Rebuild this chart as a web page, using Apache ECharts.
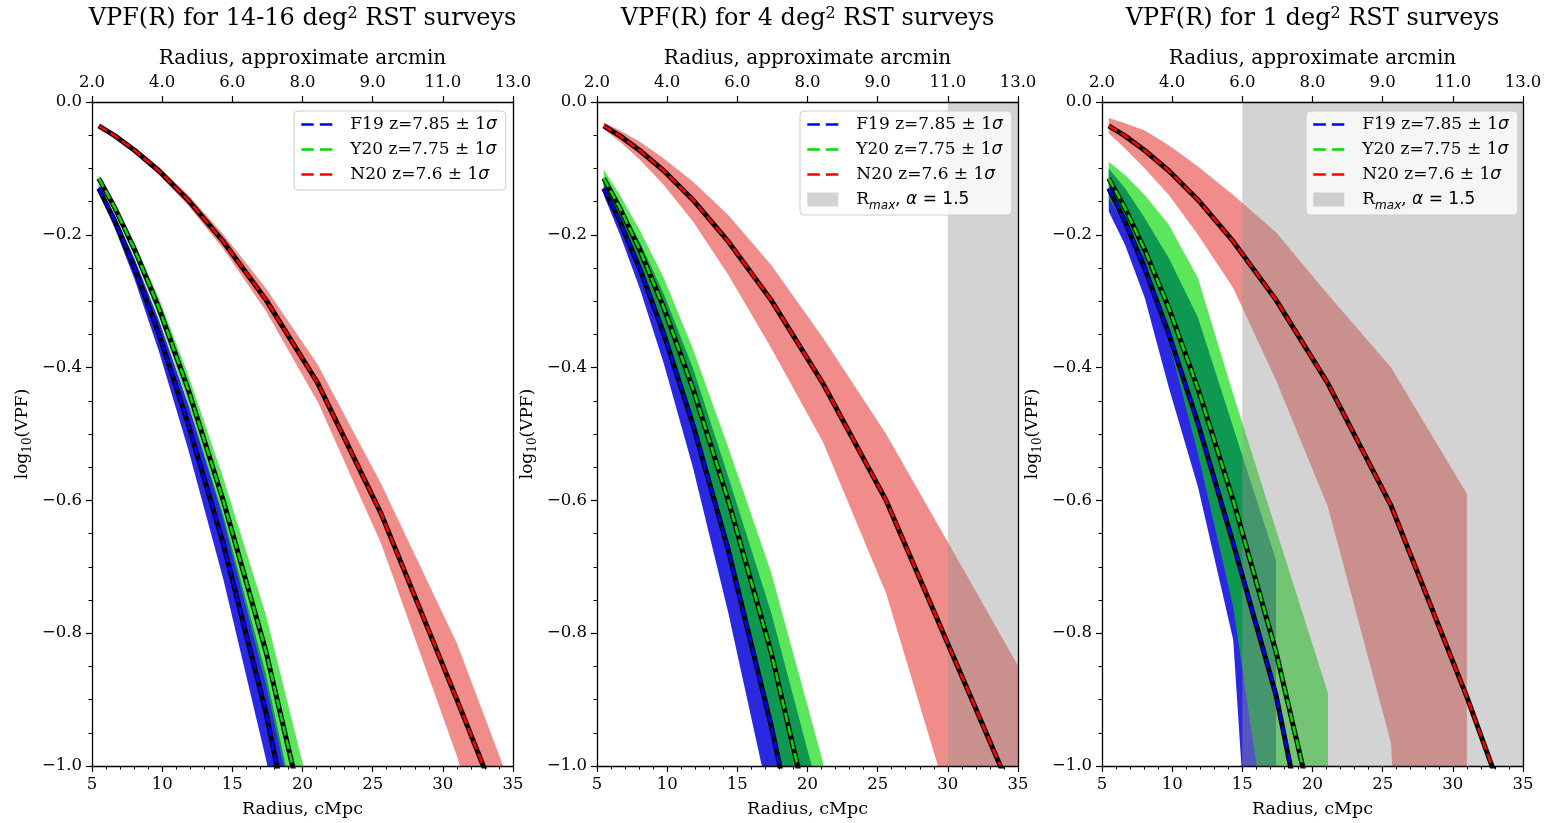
<!DOCTYPE html>
<html><head><meta charset="utf-8">
<script src="https://cdn.jsdelivr.net/npm/echarts@6/dist/echarts.min.js"></script>
<style>html,body{margin:0;padding:0;background:#fff}#c{width:1559px;height:823px}</style>
</head><body><div id="c"></div>
<script>
// ---------------- data ----------------
const R = [5.48, 6.64, 8.05, 9.76, 11.84, 14.35, 17.4, 21.1, 25.6, 31.0, 37.6];
const topTickLabels = ['2.0', '4.0', '6.0', '8.0', '9.0', '11.0', '13.0'];
const surveyAreas = ['14-16', '4', '1'];
const rmaxStart = [null, 30, 15];

// panel 1 (14-16 deg^2)
const p1_F19_mean = [-0.130, -0.180, -0.251, -0.349, -0.484, -0.665, -0.920, -1.300];
const p1_F19_lo   = [-0.136, -0.191, -0.268, -0.375, -0.522, -0.718, -0.990, -1.390];
const p1_F19_hi   = [-0.125, -0.171, -0.237, -0.328, -0.454, -0.622, -0.862, -1.225];
const p1_Y20_mean = [-0.115, -0.160, -0.223, -0.310, -0.432, -0.600, -0.828, -1.164];
const p1_Y20_lo   = [-0.120, -0.167, -0.233, -0.324, -0.452, -0.628, -0.878, -1.234];
const p1_Y20_hi   = [-0.110, -0.153, -0.213, -0.295, -0.410, -0.566, -0.773, -1.089];
const p1_N20_mean = [-0.036, -0.051, -0.073, -0.1035, -0.1475, -0.210, -0.298, -0.424, -0.620, -0.900, -1.250];
const p1_N20_lo   = [-0.039, -0.055, -0.078, -0.1095, -0.1555, -0.221, -0.315, -0.452, -0.665, -0.985, -1.450];
const p1_N20_hi   = [-0.033, -0.047, -0.068, -0.0975, -0.1395, -0.199, -0.281, -0.396, -0.575, -0.815, -1.185];

// panel 2 (4 deg^2)
const p2_F19_mean = [-0.130, -0.180, -0.251, -0.349, -0.486, -0.674, -0.938, -1.304];
const p2_F19_lo   = [-0.140, -0.200, -0.281, -0.394, -0.551, -0.769, -1.063, -1.474];
const p2_F19_hi   = [-0.120, -0.155, -0.211, -0.289, -0.401, -0.564, -0.768, -1.064];
const p2_Y20_mean = [-0.115, -0.160, -0.223, -0.310, -0.432, -0.600, -0.828, -1.164];
const p2_Y20_lo   = [-0.125, -0.180, -0.253, -0.350, -0.487, -0.670, -0.938, -1.324];
const p2_Y20_hi   = [-0.102, -0.140, -0.193, -0.265, -0.372, -0.520, -0.708, -0.994];
const p2_N20_mean = [-0.036, -0.051, -0.073, -0.1035, -0.1475, -0.210, -0.298, -0.424, -0.600, -0.865, -1.190];
const p2_N20_lo   = [-0.041, -0.060, -0.087, -0.125, -0.180, -0.260, -0.370, -0.512, -0.740, -1.120, -1.500];
const p2_N20_hi   = [-0.031, -0.043, -0.060, -0.085, -0.120, -0.170, -0.245, -0.355, -0.500, -0.700, -0.946];

// panel 3 (1 deg^2)
const p3_F19_mean = [-0.130, -0.180, -0.251, -0.349, -0.484, -0.665, -0.893, -1.280];
const p3_F19_lo   = [-0.165, -0.215, -0.295, -0.430, -0.580, -0.810, -1.800];
const p3_F19_hi   = [-0.100, -0.130, -0.175, -0.235, -0.325, -0.490, -0.690];
const p3_Y20_mean = [-0.115, -0.160, -0.223, -0.310, -0.432, -0.600, -0.828, -1.164];
const p3_Y20_lo   = [-0.145, -0.185, -0.235, -0.360, -0.530, -0.760, -1.200, -3.000];
const p3_Y20_hi   = [-0.090, -0.110, -0.140, -0.185, -0.265, -0.440, -0.644, -0.890];
const p3_N20_mean = [-0.036, -0.051, -0.073, -0.1035, -0.1475, -0.210, -0.298, -0.424, -0.608, -0.896, -1.280];
const p3_N20_lo   = [-0.047, -0.070, -0.100, -0.140, -0.200, -0.280, -0.419, -0.610, -0.966, -3.500];
const p3_N20_hi   = [-0.024, -0.032, -0.043, -0.065, -0.097, -0.140, -0.196, -0.290, -0.400, -0.590];

// ---------------- style ----------------
const FONT = "'DejaVu Serif', serif";
const SANS = "'DejaVu Sans', sans-serif";
const GRID_LEFT = [92, 597, 1102];
const GRID_TOP = 102, GRID_W = 421, GRID_H = 664;
const LINE_COLORS = { F19: '#0000ff', Y20: '#00dd00', N20: '#ff0000' };
const BAND_COLORS = { F19: '#2a28e0', Y20: 'rgba(0,216,0,0.64)', N20: '#f08d8b' };
const GREY = 'rgba(147,147,147,0.41)';
const DASH = [9.6, 4.2];
const LEGEND_DASH = [12.5, 6];
const LEGEND_LEFT = [294, 800, 1306];

const panels = [
  { F19: [p1_F19_mean, p1_F19_lo, p1_F19_hi], Y20: [p1_Y20_mean, p1_Y20_lo, p1_Y20_hi], N20: [p1_N20_mean, p1_N20_lo, p1_N20_hi] },
  { F19: [p2_F19_mean, p2_F19_lo, p2_F19_hi], Y20: [p2_Y20_mean, p2_Y20_lo, p2_Y20_hi], N20: [p2_N20_mean, p2_N20_lo, p2_N20_hi] },
  { F19: [p3_F19_mean, p3_F19_lo, p3_F19_hi], Y20: [p3_Y20_mean, p3_Y20_lo, p3_Y20_hi], N20: [p3_N20_mean, p3_N20_lo, p3_N20_hi] }
];
const KEYS = ['F19', 'Y20', 'N20'];
const legendText = {
  F19: '{n|F19 z=7.85 ± 1}{g|σ}',
  Y20: '{n|Y20 z=7.75 ± 1}{g|σ}',
  N20: '{n|N20 z=7.6 ± 1}{g|σ}',
  rmax: '{n|R}{b|max}{n|, }{g|α}{m| = 1.5}'
};

function clipPolygon(pts, r) {
  const x0 = r.x, x1 = r.x + r.width, y0 = r.y, y1 = r.y + r.height;
  const planes = [
    [p => p[0] >= x0, (a, b) => { const t = (x0 - a[0]) / (b[0] - a[0]); return [x0, a[1] + t * (b[1] - a[1])]; }],
    [p => p[0] <= x1, (a, b) => { const t = (x1 - a[0]) / (b[0] - a[0]); return [x1, a[1] + t * (b[1] - a[1])]; }],
    [p => p[1] >= y0, (a, b) => { const t = (y0 - a[1]) / (b[1] - a[1]); return [a[0] + t * (b[0] - a[0]), y0]; }],
    [p => p[1] <= y1, (a, b) => { const t = (y1 - a[1]) / (b[1] - a[1]); return [a[0] + t * (b[0] - a[0]), y1]; }]
  ];
  let out = pts;
  for (const [inside, inter] of planes) {
    const inp = out; out = [];
    if (!inp.length) break;
    for (let i = 0; i < inp.length; i++) {
      const cur = inp[i], prev = inp[(i + inp.length - 1) % inp.length];
      const ci = inside(cur), pi = inside(prev);
      if (ci) { if (!pi) out.push(inter(prev, cur)); out.push(cur); }
      else if (pi) out.push(inter(prev, cur));
    }
  }
  return out;
}

function bandSeries(p, key, lo, hi) {
  const xs = R.slice(0, lo.length);
  return {
    type: 'custom', name: 'band' + key + p, xAxisIndex: 2 * p, yAxisIndex: 2 * p,
    silent: true, animation: false, clip: true, z: 2,
    data: [[xs[0], hi[0]]],
    renderItem: function (params, api) {
      const top = xs.map((x, i) => api.coord([x, hi[i]]));
      const bot = xs.map((x, i) => api.coord([x, lo[i]])).reverse();
      const pts = clipPolygon(top.concat(bot), params.coordSys);
      return { type: 'polygon', shape: { points: pts }, style: { fill: BAND_COLORS[key] } };
    }
  };
}

function greySeries(p, start) {
  return {
    type: 'custom', name: 'rmax', xAxisIndex: 2 * p, yAxisIndex: 2 * p,
    silent: true, animation: false, z: 2, itemStyle: { color: GREY },
    data: [[start, 35]],
    renderItem: function (params, api) {
      const cs = params.coordSys;
      const a = api.coord([api.value(0), -0.5])[0];
      const b = api.coord([api.value(1), -0.5])[0];
      return { type: 'rect', shape: { x: a, y: cs.y, width: b - a, height: cs.height }, style: { fill: GREY } };
    }
  };
}

function lineSeries(p, key, mean, black) {
  const xs = R.slice(0, mean.length);
  const col = black ? '#000' : LINE_COLORS[key];
  return {
    type: 'line', name: black ? 'k' + key : key, xAxisIndex: 2 * p, yAxisIndex: 2 * p,
    data: xs.map((x, i) => [x, mean[i]]),
    symbol: 'none', showSymbol: false, silent: true, animation: false, clip: true, z: 3,
    itemStyle: { color: col },
    lineStyle: black ? { color: '#000', width: 5, type: 'solid', join: 'round' }
                     : { color: col, width: 2.6, type: DASH }
  };
}

const axisLineStyle = { color: '#000', width: 1.3 };
const xAxes = [], yAxes = [], grids = [], series = [], legends = [], graphics = [];
for (let p = 0; p < 3; p++) {
  grids.push({ left: GRID_LEFT[p], top: GRID_TOP, width: GRID_W, height: GRID_H, containLabel: false });
  xAxes.push({
    type: 'value', gridIndex: p, position: 'bottom', min: 5, max: 35, interval: 5, z: 10,
    axisLine: { show: true, onZero: false, lineStyle: axisLineStyle },
    axisTick: { show: true, inside: false, length: 6, lineStyle: { color: '#000', width: 1.2 } },
    minorTick: { show: true, splitNumber: 5, length: 3.5, lineStyle: { color: '#000', width: 1 } },
    axisLabel: { fontFamily: FONT, fontSize: 16.5, color: '#000', margin: 10, showMinLabel: true, showMaxLabel: true },
    splitLine: { show: false },
    name: 'Radius, cMpc', nameLocation: 'middle', nameGap: 34,
    nameTextStyle: { fontFamily: FONT, fontSize: 17.5, color: '#000' }
  });
  xAxes.push({
    type: 'value', gridIndex: p, position: 'top', min: 5, max: 35, interval: 5, z: 10,
    axisLine: { show: true, onZero: false, lineStyle: axisLineStyle },
    axisTick: { show: true, inside: false, length: 6, lineStyle: { color: '#000', width: 1.2 } },
    axisLabel: { fontFamily: FONT, fontSize: 16.5, color: '#000', margin: 11, showMinLabel: true, showMaxLabel: true,
      formatter: v => topTickLabels[Math.round((v - 5) / 5)] },
    splitLine: { show: false },
    name: 'Radius, approximate arcmin', nameLocation: 'middle', nameGap: 32,
    nameTextStyle: { fontFamily: FONT, fontSize: 20, color: '#000' }
  });
  yAxes.push({
    type: 'value', gridIndex: p, position: 'left', min: -1, max: 0, interval: 0.2, z: 10,
    axisLine: { show: true, onZero: false, lineStyle: axisLineStyle },
    axisTick: { show: true, inside: false, length: 6, lineStyle: { color: '#000', width: 1.2 } },
    minorTick: { show: true, splitNumber: 4, length: 3.5, lineStyle: { color: '#000', width: 1 } },
    axisLabel: { fontFamily: FONT, fontSize: 16.5, color: '#000', margin: 10, showMinLabel: true, showMaxLabel: true,
      formatter: v => (v < -1e-9 ? '\u2212' : '') + Math.abs(v).toFixed(1) },
    splitLine: { show: false },
    name: '{a|log}{s|10}{a|(VPF)}', nameLocation: 'middle', nameGap: 58,
    nameTextStyle: { fontFamily: FONT, fontSize: 17, color: '#000',
      rich: { a: { fontFamily: FONT, fontSize: 17, lineHeight: 22, color: '#000' },
              s: { fontFamily: FONT, fontSize: 12, lineHeight: 15, verticalAlign: 'bottom', color: '#000' } } }
  });
  yAxes.push({
    type: 'value', gridIndex: p, position: 'right', min: -1, max: 0, z: 10,
    axisLine: { show: true, onZero: false, lineStyle: axisLineStyle },
    axisTick: { show: false }, axisLabel: { show: false }, splitLine: { show: false }
  });

  const pd = panels[p];
  KEYS.forEach(k => series.push(bandSeries(p, k, pd[k][1], pd[k][2])));
  if (rmaxStart[p] !== null) series.push(greySeries(p, rmaxStart[p]));
  KEYS.forEach(k => { series.push(lineSeries(p, k, pd[k][0], true)); series.push(lineSeries(p, k, pd[k][0], false)); });

  const ldata = KEYS.map(k => ({
    name: k,
    itemStyle: { color: 'rgba(0,0,0,0)', borderColor: 'rgba(0,0,0,0)', borderWidth: 0, opacity: 0 },
    lineStyle: { color: LINE_COLORS[k], width: 2.6, type: LEGEND_DASH, opacity: 1 }
  }));
  if (rmaxStart[p] !== null) ldata.push({ name: 'rmax', icon: 'rect', itemStyle: { color: GREY } });
  legends.push({
    data: ldata, orient: 'vertical', left: LEGEND_LEFT[p], top: 111,
    backgroundColor: 'rgba(255,255,255,0.8)', borderColor: '#cccccc', borderWidth: 1, borderRadius: 4,
    padding: [1, 9, 3, 6], itemGap: 0, itemWidth: 31, itemHeight: 14, selectedMode: false,
    formatter: name => legendText[name],
    textStyle: {
      fontFamily: FONT, fontSize: 17, color: '#000', lineHeight: 25, padding: [0, 0, 0, 13],
      rich: {
        n: { fontFamily: FONT, fontSize: 17, lineHeight: 25, color: '#000' },
        g: { fontFamily: SANS, fontStyle: 'italic', fontSize: 17, lineHeight: 25, color: '#000' },
        b: { fontFamily: SANS, fontStyle: 'italic', fontSize: 12, lineHeight: 18, verticalAlign: 'bottom', color: '#000' },
        m: { fontFamily: SANS, fontSize: 17, lineHeight: 25, color: '#000' }
      }
    }
  });

  graphics.push({
    type: 'text', x: GRID_LEFT[p] + GRID_W / 2, y: 19, silent: true,
    style: {
      text: '{t|VPF(R) for ' + surveyAreas[p] + ' deg}{s|2}{t| RST surveys}',
      align: 'center', verticalAlign: 'middle',
      rich: {
        t: { fontFamily: FONT, fontSize: 24, lineHeight: 26, fill: '#000', color: '#000' },
        s: { fontFamily: FONT, fontSize: 16, lineHeight: 16, verticalAlign: 'top', fill: '#000', color: '#000' }
      }
    }
  });
}

const chart = echarts.init(document.getElementById('c'), null, { renderer: 'canvas' });
chart.setOption({
  animation: false,
  backgroundColor: '#fff',
  grid: grids, xAxis: xAxes, yAxis: yAxes, series: series, legend: legends,
  graphic: { elements: graphics }
});
</script></body></html>
